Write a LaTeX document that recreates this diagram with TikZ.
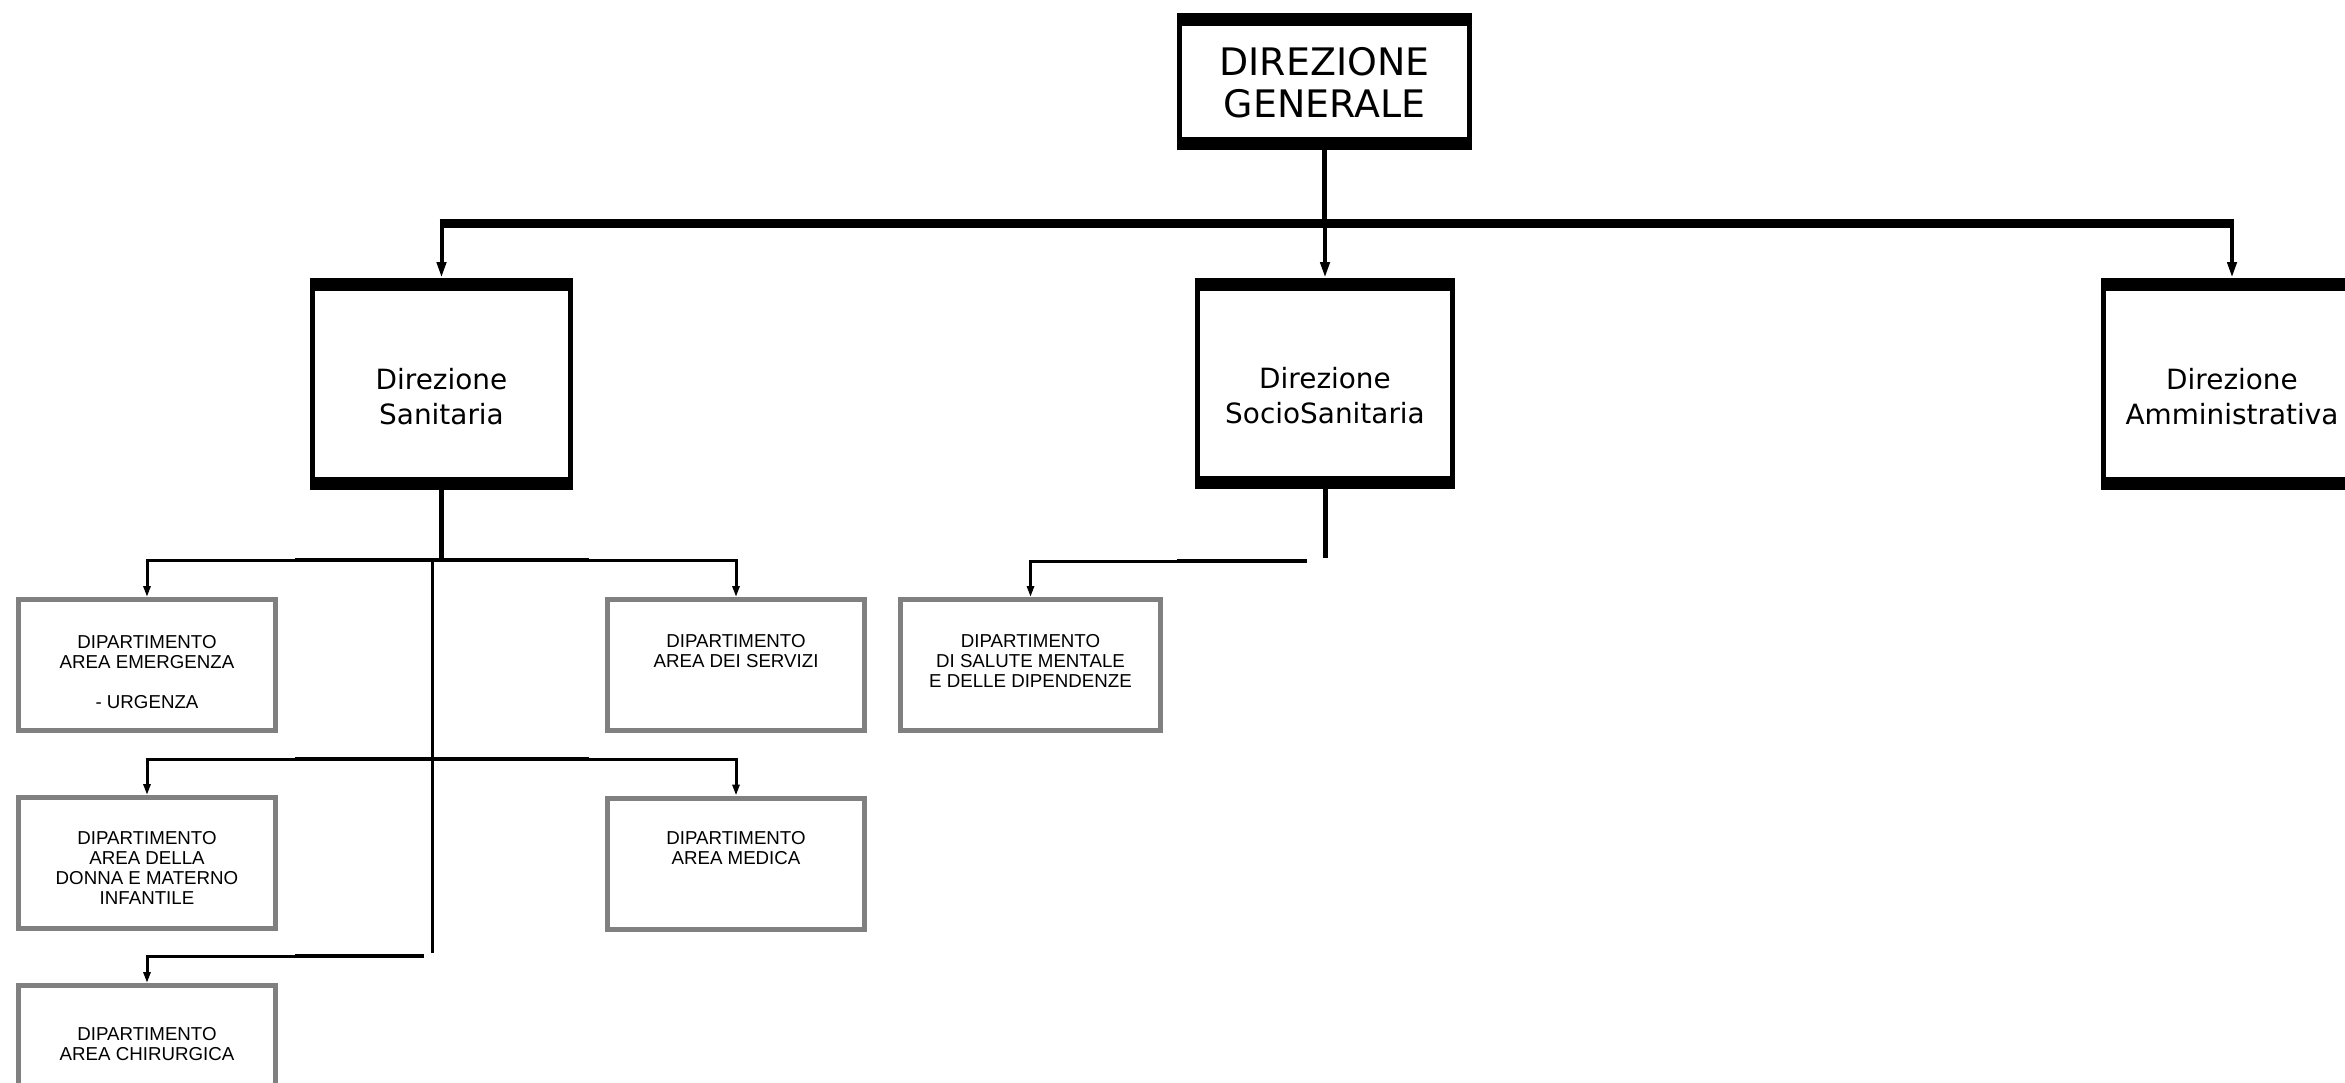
\documentclass[tikz,border=0pt]{standalone}
\usepackage{fontspec}
\setmainfont{Liberation Sans}
\newfontfamily\dejavu{DejaVu Sans}
\usetikzlibrary{arrows.meta}
\definecolor{boxgray}{HTML}{808080}
\tikzset{
  dirbox/.style={draw=black, line width=5pt, inner sep=0pt, fill=white,
    path picture={
      \fill[black] (path picture bounding box.north west) rectangle ([yshift=-10.5pt]path picture bounding box.north east);
      \fill[black] (path picture bounding box.south west) rectangle ([yshift=10.5pt]path picture bounding box.south east);
    }},
  deptbox/.style={draw=boxgray, line width=5pt, inner sep=0pt, fill=white,
    minimum width=257pt, minimum height=131pt},
  gentxt/.style={font=\dejavu\fontsize{37.9}{42}\selectfont, align=center, inner sep=0pt, anchor=north},
  dirtxt/.style={font=\dejavu\fontsize{27.9}{35}\selectfont, align=center, inner sep=0pt, anchor=north},
  deptxt/.style={font=\fontsize{18.7}{20}\selectfont, align=center, inner sep=0pt, anchor=north},
  bigarrow/.style={line width=4pt, -{Triangle[length=16pt,width=9pt]}},
  smallarrow/.style={line width=3pt, -{Triangle[length=11pt,width=7pt]}},
  thickseg/.style={line width=4.5pt},
}
\begin{document}
\begin{tikzpicture}[x=1pt,y=-1pt]
\useasboundingbox (0,0) rectangle (2345,1082);

% top level
\node[dirbox, minimum width=290pt, minimum height=132pt] (dg) at (1324.5,81.5) {};
\node[gentxt] (dgt) at ([yshift=-34pt]dg.north) {DIREZIONE\\GENERALE};

% second level
\node[dirbox, minimum width=258pt, minimum height=207pt] (ds) at (441.5,384) {};
\node[dirbox, minimum width=255pt, minimum height=206pt] (dss) at (1325,383.5) {};
\node[dirbox, minimum width=257pt, minimum height=207pt] (da) at (2232,384) {};
\node[dirtxt] (dst) at ([yshift=-90pt]ds.north) {Direzione\\Sanitaria};
\node[dirtxt] (dsst) at ([yshift=-89pt]dss.north) {Direzione\\SocioSanitaria};
\node[dirtxt] (dat) at ([yshift=-90pt]da.north) {Direzione\\Amministrativa};

% departments
\node[deptbox] (e1) at (147,665) {};
\node[deptbox] (e2) at (147,863) {};
\node[deptbox] (e3) at (147,1051) {};
\node[deptbox] (s1) at (736,665) {};
\node[deptbox] (s2) at (736,863.5) {};
\node[deptbox, minimum width=260pt] (m1) at (1030.5,665) {};
\node[deptxt] (e1t) at ([yshift=-38pt]e1.north) {DIPARTIMENTO\\AREA EMERGENZA\\[20pt]- URGENZA};
\node[deptxt] (e2t) at ([yshift=-36pt]e2.north) {DIPARTIMENTO\\AREA DELLA\\DONNA E MATERNO\\INFANTILE};
\node[deptxt] (e3t) at ([yshift=-44pt]e3.north) {DIPARTIMENTO\\AREA CHIRURGICA};
\node[deptxt] (s1t) at ([yshift=-37pt]s1.north) {DIPARTIMENTO\\AREA DEI SERVIZI};
\node[deptxt] (s2t) at ([yshift=-36pt]s2.north) {DIPARTIMENTO\\AREA MEDICA};
\node[deptxt] (m1t) at ([yshift=-37pt]m1.north) {DIPARTIMENTO\\DI SALUTE MENTALE\\E DELLE DIPENDENZE};

% coordinates for the connector levels
\coordinate (bar) at (0,223);
\coordinate (h1) at (0,560);
\coordinate (h2) at (0,759);
\coordinate (h3) at (0,956);
\coordinate (tkb) at (432,953);
\coordinate (hs) at (1307,561);

% main bar
\draw[line width=5pt] (dg.south) -- (dg.south |- bar);
\draw[line width=9pt] ([xshift=-2pt]ds.north |- bar) -- ([xshift=2pt]da.north |- bar);
\draw[bigarrow] (ds.north |- bar) -- (ds.north);
\draw[bigarrow] (dss.north |- bar) -- (dss.north);
\draw[bigarrow] (da.north |- bar) -- (da.north);

% Sanitaria branch
\draw[line width=5pt] (ds.south) -- (ds.south |- h1);
\draw[line width=3pt] (tkb |- h1) -- (tkb);
\draw[smallarrow] (ds.south |- h1) -| (e1.north);
\draw[smallarrow] (ds.south |- h1) -| (s1.north);
\draw[thickseg] ([xshift=-147pt]ds.south |- h1) -- ([xshift=147pt]ds.south |- h1);
\draw[smallarrow] (ds.south |- h2) -| (e2.north);
\draw[smallarrow] (ds.south |- h2) -| (s2.north);
\draw[thickseg] ([xshift=-147pt]ds.south |- h2) -- ([xshift=147pt]ds.south |- h2);
\draw[smallarrow] ([xshift=-8pt]tkb |- h3) -| (e3.north);
\draw[thickseg] ([xshift=-147pt]ds.south |- h3) -- ([xshift=-8pt]tkb |- h3);

% SocioSanitaria branch
\draw[line width=5pt] (dss.south) -- ([yshift=3pt]dss.south |- hs);
\draw[smallarrow] (hs) -| (m1.north);
\draw[thickseg] ([xshift=-130pt]hs) -- (hs);
\end{tikzpicture}
\end{document}
